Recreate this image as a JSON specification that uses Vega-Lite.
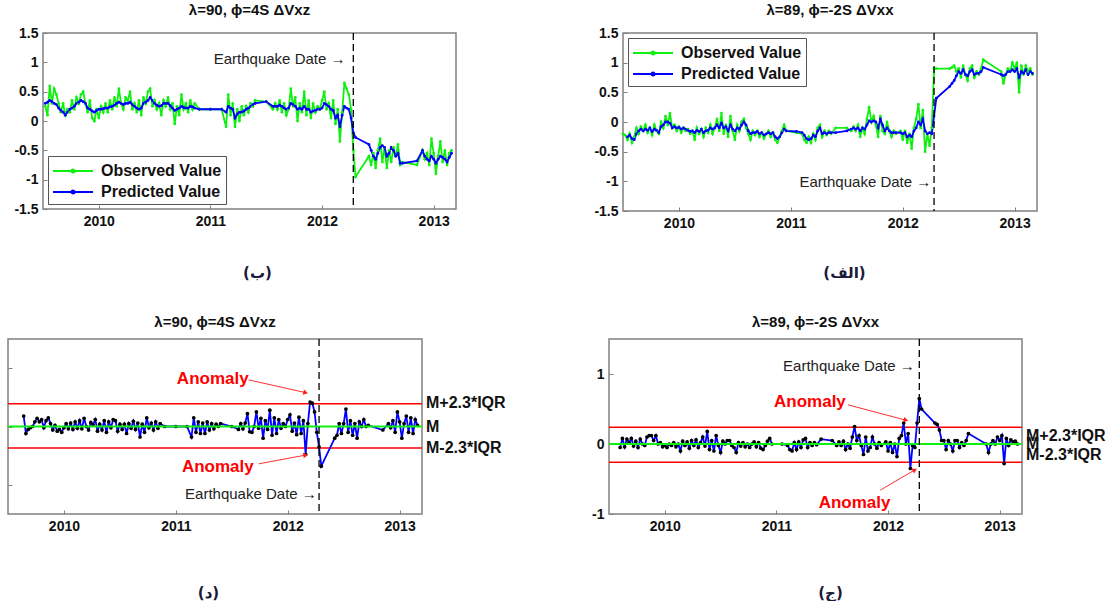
{
  "$schema": "https://vega.github.io/schema/vega-lite/v6.json",
  "background": "white",
  "padding": {"left": 6, "top": 2, "right": 2, "bottom": 0},
  "config": {
    "font": "Liberation Sans",
    "view": {"stroke": "#808080", "strokeWidth": 1.5},
    "axis": {"domain": false, "grid": false, "labelFont": "Liberation Sans", "labelFontWeight": "bold", "labelFontSize": 14, "labelColor": "#111111", "tickColor": "#808080", "tickSize": -4, "labelPadding": 9, "labelOverlap": false},
    "title": {"fontSize": 15, "fontWeight": "bold", "color": "#111111", "offset": 8},
    "legend": {"labelFont": "Liberation Sans", "labelFontWeight": "bold", "labelFontSize": 16, "labelColor": "#111111"}
  },
  "datasets": {
    "A": [
      {"t":2009.52,"o":0.25,"p":0.30},{"t":2009.54,"o":0.10,"p":0.32},{"t":2009.56,"o":0.60,"p":0.35},{"t":2009.58,"o":0.30,"p":0.33},
      {"t":2009.60,"o":0.55,"p":0.30},{"t":2009.62,"o":0.45,"p":0.28},{"t":2009.64,"o":0.30,"p":0.22,"r":0.18},{"t":2009.66,"o":0.15,"p":0.18,"r":-0.12},
      {"t":2009.68,"o":0.30,"p":0.15,"r":-0.05},{"t":2009.70,"o":0.10,"p":0.10,"r":-0.02},{"t":2009.72,"o":0.20,"p":0.15,"r":0.0},{"t":2009.74,"o":0.15,"p":0.20,"r":0.08},
      {"t":2009.76,"o":0.35,"p":0.22,"r":0.14},{"t":2009.78,"o":0.20,"p":0.25,"r":0.08},{"t":2009.80,"o":0.40,"p":0.30,"r":0.12},{"t":2009.82,"o":0.30,"p":0.32,"r":-0.02},
      {"t":2009.84,"o":0.45,"p":0.35,"r":0.10},{"t":2009.86,"o":0.50,"p":0.33,"r":0.15},{"t":2009.88,"o":0.30,"p":0.30,"r":0.05},{"t":2009.90,"o":0.15,"p":0.22,"r":-0.06},
      {"t":2009.92,"o":0.35,"p":0.20,"r":0.02},{"t":2009.94,"o":0.05,"p":0.17,"r":-0.08},{"t":2009.96,"o":0.00,"p":0.15,"r":-0.05},{"t":2009.98,"o":0.20,"p":0.18,"r":-0.10},
      {"t":2010.00,"o":0.05,"p":0.20,"r":-0.02},{"t":2010.02,"o":0.25,"p":0.20,"r":0.05},{"t":2010.04,"o":0.15,"p":0.21,"r":-0.04},{"t":2010.06,"o":0.30,"p":0.22,"r":0.06},
      {"t":2010.08,"o":0.15,"p":0.22,"r":-0.05},{"t":2010.10,"o":0.35,"p":0.24,"r":0.08},{"t":2010.12,"o":0.20,"p":0.25,"r":-0.03},{"t":2010.14,"o":0.40,"p":0.27,"r":0.10},
      {"t":2010.16,"o":0.25,"p":0.30,"r":-0.04},{"t":2010.18,"o":0.55,"p":0.32,"r":0.14},{"t":2010.20,"o":0.30,"p":0.30,"r":0.0},{"t":2010.22,"o":0.20,"p":0.28,"r":-0.06},
      {"t":2010.24,"o":0.40,"p":0.30,"r":0.07},{"t":2010.26,"o":0.35,"p":0.30,"r":0.03},{"t":2010.28,"o":0.50,"p":0.32,"r":0.12},{"t":2010.30,"o":0.20,"p":0.28,"r":-0.08},
      {"t":2010.32,"o":0.30,"p":0.25,"r":0.04},{"t":2010.34,"o":0.15,"p":0.22,"r":-0.06},{"t":2010.36,"o":0.35,"p":0.20,"r":0.10},{"t":2010.38,"o":0.10,"p":0.22,"r":-0.10},
      {"t":2010.40,"o":0.40,"p":0.30,"r":0.08},{"t":2010.42,"o":0.30,"p":0.32,"r":-0.02},{"t":2010.44,"o":0.50,"p":0.35,"r":0.12},{"t":2010.46,"o":0.55,"p":0.40,"r":0.10},
      {"t":2010.48,"o":0.25,"p":0.35,"r":-0.08},{"t":2010.50,"o":0.35,"p":0.30,"r":0.04},{"t":2010.52,"o":0.20,"p":0.27,"r":-0.05},{"t":2010.54,"o":0.30,"p":0.25,"r":0.04},
      {"t":2010.56,"o":0.10,"p":0.26,"r":-0.12},{"t":2010.58,"o":0.35,"p":0.30,"r":0.05},{"t":2010.60,"o":0.25,"p":0.30,"r":-0.03},{"t":2010.62,"o":0.40,"p":0.30,"r":0.09},
      {"t":2010.64,"o":0.20,"p":0.26,"r":-0.05},{"t":2010.66,"o":0.30,"p":0.22,"r":0.06},{"t":2010.68,"o":-0.05,"p":0.18,"r":-0.18},{"t":2010.70,"o":0.25,"p":0.20,"r":0.04},
      {"t":2010.72,"o":0.10,"p":0.22,"r":-0.10},{"t":2010.74,"o":0.45,"p":0.25,"r":0.15},{"t":2010.76,"o":0.20,"p":0.23,"r":-0.02},{"t":2010.78,"o":0.30,"p":0.22,"r":0.06},
      {"t":2010.80,"o":0.15,"p":0.22,"r":-0.06},{"t":2010.82,"o":0.35,"p":0.25,"r":0.08},{"t":2010.84,"o":0.20,"p":0.24,"r":-0.03},{"t":2010.86,"o":0.30,"p":0.22,"r":0.05},
      {"t":2010.90,"o":0.20,"p":0.20,"r":0.0},{"t":2011.00,"o":0.20,"p":0.20,"r":0.0},{"t":2011.10,"o":0.20,"p":0.20,"r":0.0},{"t":2011.14,"o":-0.10,"p":0.15,"r":-0.18},
      {"t":2011.16,"o":0.45,"p":0.25,"r":0.15},{"t":2011.18,"o":0.10,"p":0.22,"r":-0.10},{"t":2011.20,"o":0.30,"p":0.20,"r":0.08},{"t":2011.22,"o":-0.10,"p":0.05,"r":-0.12},
      {"t":2011.24,"o":0.20,"p":0.12,"r":0.06},{"t":2011.26,"o":0.00,"p":0.15,"r":-0.12},{"t":2011.28,"o":0.25,"p":0.15,"r":0.08},{"t":2011.30,"o":0.10,"p":0.17,"r":-0.06},
      {"t":2011.32,"o":0.25,"p":0.20,"r":0.05},{"t":2011.34,"o":0.15,"p":0.22,"r":-0.04},{"t":2011.36,"o":0.30,"p":0.25,"r":0.04},{"t":2011.38,"o":0.25,"p":0.28,"r":0.0},
      {"t":2011.40,"o":0.35,"p":0.30,"r":0.05},{"t":2011.50,"o":0.33,"p":0.33,"r":0.0},{"t":2011.56,"o":0.20,"p":0.25,"r":-0.05},{"t":2011.58,"o":0.30,"p":0.25,"r":0.05},
      {"t":2011.60,"o":0.20,"p":0.25,"r":-0.04},{"t":2011.62,"o":0.35,"p":0.27,"r":0.06},{"t":2011.64,"o":0.15,"p":0.25,"r":0.22},{"t":2011.66,"o":0.30,"p":0.22,"r":-0.09},
      {"t":2011.68,"o":0.10,"p":0.20,"r":-0.10},{"t":2011.70,"o":0.20,"p":0.22,"r":0.0},{"t":2011.72,"o":0.55,"p":0.30,"r":0.25},{"t":2011.74,"o":0.25,"p":0.28,"r":-0.03},
      {"t":2011.76,"o":0.40,"p":0.25,"r":0.14},{"t":2011.78,"o":0.00,"p":0.20,"r":-0.20},{"t":2011.80,"o":0.30,"p":0.22,"r":0.10},{"t":2011.82,"o":0.15,"p":0.20,"r":-0.05},
      {"t":2011.84,"o":0.50,"p":0.25,"r":0.28},{"t":2011.86,"o":0.10,"p":0.20,"r":-0.15},{"t":2011.88,"o":0.35,"p":0.20,"r":0.15},{"t":2011.90,"o":0.05,"p":0.15,"r":-0.12},
      {"t":2011.92,"o":0.30,"p":0.17,"r":0.12},{"t":2011.94,"o":0.15,"p":0.18,"r":-0.03},{"t":2011.96,"o":0.25,"p":0.20,"r":0.05},{"t":2011.98,"o":0.20,"p":0.20,"r":0.0},
      {"t":2012.00,"o":0.35,"p":0.22,"r":0.12},{"t":2012.02,"o":0.50,"p":0.30,"r":0.20},{"t":2012.04,"o":0.20,"p":0.28,"r":-0.08},{"t":2012.06,"o":0.30,"p":0.25,"r":0.06},
      {"t":2012.08,"o":0.05,"p":0.20,"r":-0.14},{"t":2012.10,"o":0.35,"p":0.18,"r":0.16},{"t":2012.12,"o":-0.05,"p":0.05,"r":-0.12},{"t":2012.14,"o":0.20,"p":0.10,"r":0.10},
      {"t":2012.16,"o":-0.35,"p":-0.10,"r":-0.48},{"t":2012.18,"o":0.15,"p":0.10,"r":0.05},{"t":2012.20,"o":0.65,"p":0.25,"r":0.42},{"t":2012.22,"o":0.55,"p":0.22,"r":0.40},
      {"t":2012.24,"o":0.45,"p":0.20,"r":0.25},{"t":2012.26,"o":0.20,"p":0.05,"r":-0.10},{"t":2012.28,"o":-0.50,"p":-0.20,"r":-0.35},{"t":2012.30,"o":-0.95,"p":-0.28,"r":-0.68},
      {"t":2012.42,"o":-0.60,"p":-0.40,"r":-0.20},{"t":2012.44,"o":-0.75,"p":-0.50,"r":-0.15},{"t":2012.46,"o":-0.55,"p":-0.60,"r":0.05},{"t":2012.48,"o":-0.80,"p":-0.65,"r":-0.12},
      {"t":2012.50,"o":-0.50,"p":-0.55,"r":0.05},{"t":2012.52,"o":-0.30,"p":-0.45,"r":0.30},{"t":2012.54,"o":-0.70,"p":-0.42,"r":-0.10},{"t":2012.56,"o":-0.45,"p":-0.45,"r":0.10},
      {"t":2012.58,"o":-0.80,"p":-0.60,"r":-0.15},{"t":2012.60,"o":-0.50,"p":-0.55,"r":0.05},{"t":2012.62,"o":-0.70,"p":-0.45,"r":-0.20},{"t":2012.64,"o":-0.45,"p":-0.50,"r":0.08},
      {"t":2012.66,"o":-0.60,"p":-0.60,"r":0.0},{"t":2012.68,"o":-0.40,"p":-0.55,"r":0.12},{"t":2012.70,"o":-0.75,"p":-0.72,"r":0.0},{"t":2012.72,"o":-0.70,"p":-0.72,"r":0.02},
      {"t":2012.85,"o":-0.75,"p":-0.68,"r":-0.06},{"t":2012.90,"o":-0.50,"p":-0.50,"r":0.05},{"t":2012.92,"o":-0.65,"p":-0.60,"r":-0.02},{"t":2012.94,"o":-0.55,"p":-0.65,"r":0.10},
      {"t":2012.96,"o":-0.75,"p":-0.68,"r":-0.10},{"t":2012.98,"o":-0.30,"p":-0.60,"r":0.25},{"t":2013.00,"o":-0.55,"p":-0.65,"r":0.08},{"t":2013.02,"o":-0.90,"p":-0.72,"r":-0.20},
      {"t":2013.04,"o":-0.60,"p":-0.65,"r":0.05},{"t":2013.06,"o":-0.35,"p":-0.60,"r":0.18},{"t":2013.08,"o":-0.70,"p":-0.62,"r":-0.10},{"t":2013.10,"o":-0.50,"p":-0.65,"r":0.15},
      {"t":2013.12,"o":-0.75,"p":-0.70,"r":-0.12},{"t":2013.14,"o":-0.55,"p":-0.62,"r":0.12},{"t":2013.16,"o":-0.50,"p":-0.55,"r":0.02}
    ],
    "B": [
      {"t":2009.50,"o":-0.20},{"t":2009.52,"o":-0.22},{"t":2009.54,"o":-0.30,"p":-0.25},{"t":2009.56,"o":-0.20,"p":-0.22},
      {"t":2009.58,"o":-0.35,"p":-0.28},{"t":2009.60,"o":-0.25,"p":-0.30,"r":-0.05},{"t":2009.62,"o":-0.10,"p":-0.20,"r":0.08},{"t":2009.64,"o":-0.20,"p":-0.15,"r":-0.04},
      {"t":2009.66,"o":-0.08,"p":-0.12,"r":0.07},{"t":2009.68,"o":-0.15,"p":-0.15,"r":0.02},{"t":2009.70,"o":-0.05,"p":-0.12,"r":0.08},{"t":2009.72,"o":-0.18,"p":-0.14,"r":-0.03},
      {"t":2009.74,"o":-0.10,"p":-0.10,"r":0.04},{"t":2009.76,"o":-0.22,"p":-0.16,"r":-0.05},{"t":2009.78,"o":-0.05,"p":-0.12,"r":0.07},{"t":2009.80,"o":-0.15,"p":-0.14,"r":0.0},
      {"t":2009.82,"o":-0.20,"p":-0.18,"r":-0.02},{"t":2009.84,"o":0.00,"p":-0.08,"r":0.10},{"t":2009.86,"o":-0.10,"p":-0.05,"r":0.12},{"t":2009.88,"o":0.10,"p":0.00,"r":0.12},
      {"t":2009.90,"o":-0.05,"p":0.00,"r":0.05},{"t":2009.92,"o":0.15,"p":-0.02,"r":0.12},{"t":2009.94,"o":-0.10,"p":-0.10,"r":0.0},{"t":2009.96,"o":-0.05,"p":-0.08,"r":0.02},
      {"t":2009.98,"o":-0.15,"p":-0.10,"r":-0.04},{"t":2010.00,"o":-0.08,"p":-0.09,"r":-0.02},{"t":2010.02,"o":-0.18,"p":-0.12,"r":-0.05},{"t":2010.04,"o":-0.10,"p":-0.10,"r":0.0},
      {"t":2010.06,"o":-0.15,"p":-0.12,"r":-0.02},{"t":2010.08,"o":-0.12,"p":-0.14,"r":0.02},{"t":2010.10,"o":-0.20,"p":-0.16,"r":-0.04},{"t":2010.12,"o":-0.15,"p":-0.15,"r":0.0},
      {"t":2010.14,"o":-0.30,"p":-0.18,"r":-0.10},{"t":2010.16,"o":-0.10,"p":-0.14,"r":0.04},{"t":2010.18,"o":-0.20,"p":-0.16,"r":-0.02},{"t":2010.20,"o":-0.12,"p":-0.12,"r":0.03},
      {"t":2010.22,"o":-0.25,"p":-0.18,"r":-0.06},{"t":2010.24,"o":-0.10,"p":-0.15,"r":0.05},{"t":2010.26,"o":-0.18,"p":-0.14,"r":-0.02},{"t":2010.28,"o":-0.05,"p":-0.10,"r":0.06},
      {"t":2010.30,"o":-0.20,"p":-0.12,"r":-0.05},{"t":2010.32,"o":-0.10,"p":-0.10,"r":0.02},{"t":2010.34,"o":0.05,"p":-0.05,"r":0.10},{"t":2010.36,"o":-0.15,"p":-0.10,"r":-0.03},
      {"t":2010.38,"o":0.15,"p":-0.02,"r":0.18},{"t":2010.40,"o":-0.20,"p":-0.10,"r":-0.08},{"t":2010.42,"o":-0.05,"p":-0.08,"r":0.05},{"t":2010.44,"o":-0.25,"p":-0.15,"r":-0.10},
      {"t":2010.46,"o":0.10,"p":-0.05,"r":0.12},{"t":2010.48,"o":-0.15,"p":-0.12,"r":-0.02},{"t":2010.50,"o":-0.30,"p":-0.15,"r":-0.12},{"t":2010.52,"o":-0.05,"p":-0.10,"r":0.04},
      {"t":2010.54,"o":-0.15,"p":-0.12,"r":0.0},{"t":2010.56,"o":0.00,"p":-0.05,"r":0.05},{"t":2010.58,"o":0.05,"p":0.00,"r":0.05},{"t":2010.60,"o":-0.10,"p":-0.05,"r":-0.02},
      {"t":2010.62,"o":-0.20,"p":-0.15,"r":-0.05},{"t":2010.64,"o":-0.30,"p":-0.20,"r":-0.12},{"t":2010.66,"o":-0.15,"p":-0.18,"r":0.02},{"t":2010.68,"o":-0.22,"p":-0.18,"r":-0.03},
      {"t":2010.70,"o":-0.15,"p":-0.16,"r":0.02},{"t":2010.72,"o":-0.25,"p":-0.20,"r":-0.04},{"t":2010.74,"o":-0.18,"p":-0.18,"r":0.0},{"t":2010.76,"o":-0.28,"p":-0.22,"r":-0.05},
      {"t":2010.78,"o":-0.20,"p":-0.20,"r":0.0},{"t":2010.80,"o":-0.15,"p":-0.18,"r":0.03},{"t":2010.82,"o":-0.25,"p":-0.20,"r":-0.04},{"t":2010.84,"o":-0.18,"p":-0.18,"r":0.02},
      {"t":2010.86,"o":-0.30,"p":-0.25,"r":-0.06},{"t":2010.88,"o":-0.35,"p":-0.28,"r":-0.08},{"t":2010.90,"o":-0.25,"p":-0.25,"r":-0.02},{"t":2010.92,"o":-0.15,"p":-0.18,"r":0.04},
      {"t":2010.94,"o":-0.05,"p":-0.12,"r":0.08},{"t":2010.96,"o":-0.15,"p":-0.15,"r":0.0},{"t":2011.05,"o":-0.18,"p":-0.16,"r":0.0},{"t":2011.10,"o":-0.20,"p":-0.18,"r":-0.02},
      {"t":2011.12,"o":-0.30,"p":-0.22,"r":-0.08},{"t":2011.14,"o":-0.35,"p":-0.28,"r":-0.10},{"t":2011.16,"o":-0.25,"p":-0.30,"r":0.02},{"t":2011.18,"o":-0.35,"p":-0.28,"r":-0.08},
      {"t":2011.20,"o":-0.20,"p":-0.22,"r":0.03},{"t":2011.22,"o":-0.30,"p":-0.25,"r":-0.05},{"t":2011.24,"o":-0.10,"p":-0.15,"r":0.06},{"t":2011.26,"o":-0.05,"p":-0.10,"r":0.08},
      {"t":2011.28,"o":-0.25,"p":-0.20,"r":-0.05},{"t":2011.30,"o":-0.15,"p":-0.18,"r":0.02},{"t":2011.32,"o":-0.22,"p":-0.20,"r":-0.02},{"t":2011.34,"o":-0.15,"p":-0.18,"r":0.02},
      {"t":2011.36,"o":-0.20,"p":-0.18,"r":-0.01},{"t":2011.40,"o":-0.10,"p":-0.18,"r":0.07},{"t":2011.50,"o":-0.10,"p":-0.15,"r":0.05},{"t":2011.54,"o":-0.15,"p":-0.12,"r":-0.02},
      {"t":2011.56,"o":-0.08,"p":-0.10,"r":0.03},{"t":2011.58,"o":-0.15,"p":-0.12,"r":-0.02},{"t":2011.60,"o":-0.05,"p":-0.10,"r":0.04},{"t":2011.62,"o":-0.25,"p":-0.15,"r":-0.08},
      {"t":2011.64,"o":-0.10,"p":-0.10,"r":0.0},{"t":2011.66,"o":-0.20,"p":-0.12,"r":-0.06},{"t":2011.68,"o":0.05,"p":-0.05,"r":0.10},{"t":2011.70,"o":0.25,"p":0.02,"r":0.25},
      {"t":2011.72,"o":0.00,"p":0.00,"r":0.05},{"t":2011.74,"o":0.10,"p":0.02,"r":0.12},{"t":2011.76,"o":-0.05,"p":0.00,"r":-0.02},{"t":2011.78,"o":-0.25,"p":-0.10,"r":-0.15},
      {"t":2011.80,"o":0.10,"p":0.05,"r":0.10},{"t":2011.82,"o":-0.15,"p":-0.05,"r":-0.10},{"t":2011.84,"o":-0.20,"p":-0.15,"r":-0.05},{"t":2011.86,"o":0.00,"p":-0.10,"r":0.10},
      {"t":2011.88,"o":-0.15,"p":-0.15,"r":0.0},{"t":2011.90,"o":-0.25,"p":-0.18,"r":-0.06},{"t":2011.92,"o":-0.15,"p":-0.18,"r":0.02},{"t":2011.94,"o":-0.20,"p":-0.18,"r":-0.02},
      {"t":2011.98,"o":-0.15,"p":-0.18,"r":0.03},{"t":2012.00,"o":-0.30,"p":-0.20,"r":-0.10},{"t":2012.02,"o":-0.15,"p":-0.18,"r":0.02},{"t":2012.04,"o":-0.35,"p":-0.25,"r":-0.12},
      {"t":2012.06,"o":-0.20,"p":-0.22,"r":0.0},{"t":2012.08,"o":-0.45,"p":-0.25,"r":-0.18},{"t":2012.10,"o":-0.10,"p":-0.15,"r":0.08},{"t":2012.12,"o":0.05,"p":-0.10,"r":0.12},
      {"t":2012.14,"o":0.30,"p":0.00,"r":0.30},{"t":2012.16,"o":-0.10,"p":-0.05,"r":0.0},{"t":2012.18,"o":0.20,"p":0.05,"r":0.15},{"t":2012.20,"o":-0.50,"p":-0.15,"r":-0.35},
      {"t":2012.22,"o":-0.20,"p":-0.20,"r":-0.02},{"t":2012.24,"o":-0.40,"p":-0.18,"r":-0.05},{"t":2012.26,"o":-0.10,"p":-0.20,"r":0.30},{"t":2012.28,"o":0.90,"p":0.10,"r":0.65},
      {"t":2012.30,"o":0.90,"p":0.40,"r":0.50},{"t":2012.42,"o":0.90,"p":0.60,"r":0.30},{"t":2012.44,"o":0.92,"p":0.65,"r":0.28},{"t":2012.46,"o":0.95,"p":0.70,"r":0.20},
      {"t":2012.48,"o":0.85,"p":0.78,"r":0.05},{"t":2012.50,"o":0.90,"p":0.85,"r":0.05},{"t":2012.52,"o":0.75,"p":0.82,"r":-0.08},{"t":2012.54,"o":0.95,"p":0.88,"r":0.05},
      {"t":2012.56,"o":0.80,"p":0.80,"r":0.0},{"t":2012.58,"o":0.70,"p":0.78,"r":-0.10},{"t":2012.60,"o":0.90,"p":0.85,"r":0.05},{"t":2012.62,"o":0.95,"p":0.88,"r":0.05},
      {"t":2012.64,"o":0.75,"p":0.80,"r":-0.05},{"t":2012.66,"o":0.85,"p":0.82,"r":0.02},{"t":2012.68,"o":0.80,"p":0.82,"r":-0.02},{"t":2012.70,"o":0.90,"p":0.85,"r":0.05},
      {"t":2012.72,"o":1.05,"p":0.92,"r":0.15},{"t":2012.88,"o":0.85,"p":0.80,"r":0.0},{"t":2012.90,"o":0.65,"p":0.78,"r":-0.12},{"t":2012.92,"o":0.80,"p":0.80,"r":0.0},
      {"t":2012.94,"o":0.90,"p":0.85,"r":0.05},{"t":2012.96,"o":0.85,"p":0.85,"r":0.0},{"t":2012.98,"o":1.00,"p":0.88,"r":0.10},{"t":2013.00,"o":0.90,"p":0.85,"r":0.05},
      {"t":2013.02,"o":1.00,"p":0.90,"r":0.12},{"t":2013.04,"o":0.50,"p":0.75,"r":-0.28},{"t":2013.06,"o":0.95,"p":0.85,"r":0.08},{"t":2013.08,"o":0.80,"p":0.82,"r":-0.02},
      {"t":2013.10,"o":0.95,"p":0.88,"r":0.06},{"t":2013.12,"o":0.85,"p":0.80,"r":0.03},{"t":2013.14,"o":0.90,"p":0.85,"r":0.04},{"t":2013.16,"o":0.80,"p":0.82,"r":0.0}
    ],
    "annA": [{"x":2011.33,"y":0.81},{"x":2011.375,"y":-0.69}],
    "arrA": [{"x":2011.65,"y":0.80,"x2":2012.16,"y2":0.58},{"x":2011.74,"y":-0.64,"x2":2012.16,"y2":-0.49}],
    "mA": [{"lab":"M+2.3*IQR","y":0.41},{"lab":"M","y":0.0},{"lab":"M-2.3*IQR","y":-0.36}],
    "annB": [{"x":2011.30,"y":0.60},{"x":2011.70,"y":-0.84}],
    "arrB": [{"x":2011.64,"y":0.56,"x2":2012.16,"y2":0.34},{"x":2011.93,"y":-0.66,"x2":2012.24,"y2":-0.37}],
    "mB": [{"lab":"M+2.3*IQR","y":0.11},{"lab":"M","y":0.0},{"lab":"M-2.3*IQR","y":-0.16}]
  },
  "spacing": 33,
  "vconcat": [
    {
      "spacing": 0,
      "hconcat": [
        {"width": 3, "height": 10, "view": {"stroke": null}, "data": {"values": [{}]}, "mark": {"type": "point", "opacity": 0}, "encoding": {}},
        {
          "spacing": 136,
          "hconcat": [
            {
              "width": 413, "height": 176,
              "title": "λ=90, ϕ=4S ΔVxz",
              "layer": [
                {
                  "data": {"name": "A"},
                  "transform": [{"fold": ["o", "p"], "as": ["s", "v"]}],
                  "mark": {"type": "line", "strokeWidth": 1.8, "point": {"filled": true, "size": 8}},
                  "encoding": {
                    "x": {"field": "t", "type": "quantitative", "scale": {"domain": [2009.5, 2013.2], "nice": false, "zero": false},
                          "axis": {"values": [2010, 2011, 2012, 2013], "labelExpr": "datum.value + ''", "title": "(ب)", "titleFont": "DejaVu Sans", "titleFontSize": 15, "titleFontWeight": "bold", "titleColor": "#1a1a3a", "titlePadding": 37, "titleX": 214}},
                    "y": {"field": "v", "type": "quantitative", "scale": {"domain": [-1.5, 1.5], "nice": false},
                          "axis": {"values": [-1.5, -1, -0.5, 0, 0.5, 1, 1.5], "tickCount": 20, "labelExpr": "datum.value + ''", "title": null}},
                    "color": {"field": "s", "type": "nominal", "scale": {"domain": ["o", "p"], "range": ["#10f010", "#0000ff"]},
                              "legend": {"title": null, "orient": "bottom-left", "offset": 5, "fillColor": "white", "strokeColor": "#555555", "padding": 4, "symbolType": "M-1,0H3M0.85,0a0.15,0.15 0 1,0 0.3,0a0.15,0.15 0 1,0 -0.3,0", "symbolSize": 400, "symbolStrokeWidth": 2, "labelOffset": 27, "labelExpr": "datum.label == 'o' ? 'Observed Value' : 'Predicted Value'", "rowPadding": 2}}
                  }
                },
                {"data": {"values": [{}]}, "mark": {"type": "rule", "strokeDash": [7, 4], "color": "black", "strokeWidth": 1.3}, "encoding": {"x": {"datum": 2012.28}}},
                {"data": {"values": [{}]}, "mark": {"type": "text", "align": "right", "baseline": "middle", "fontSize": 15, "color": "#222222"},
                 "encoding": {"x": {"datum": 2012.21}, "y": {"datum": 1.06}, "text": {"value": "Earthquake Date →"}}}
              ]
            },
            {
              "width": 414, "height": 178,
              "title": "λ=89, ϕ=-2S ΔVxx",
              "layer": [
                {
                  "data": {"name": "B"},
                  "transform": [{"fold": ["o", "p"], "as": ["s", "v"]}],
                  "mark": {"type": "line", "strokeWidth": 1.8, "point": {"filled": true, "size": 8}},
                  "encoding": {
                    "x": {"field": "t", "type": "quantitative", "scale": {"domain": [2009.5, 2013.2], "nice": false, "zero": false},
                          "axis": {"values": [2010, 2011, 2012, 2013], "labelExpr": "datum.value + ''", "title": "(الف)", "titleFont": "DejaVu Sans", "titleFontSize": 15, "titleFontWeight": "bold", "titleColor": "#1a1a3a", "titlePadding": 35, "titleX": 221}},
                    "y": {"field": "v", "type": "quantitative", "scale": {"domain": [-1.5, 1.5], "nice": false},
                          "axis": {"values": [-1.5, -1, -0.5, 0, 0.5, 1, 1.5], "tickCount": 20, "labelExpr": "datum.value + ''", "title": null}},
                    "color": {"field": "s", "type": "nominal", "scale": {"domain": ["o", "p"], "range": ["#10f010", "#0000ff"]},
                              "legend": {"title": null, "orient": "top-left", "offset": 5, "fillColor": "white", "strokeColor": "#555555", "padding": 4, "symbolType": "M-1,0H3M0.85,0a0.15,0.15 0 1,0 0.3,0a0.15,0.15 0 1,0 -0.3,0", "symbolSize": 400, "symbolStrokeWidth": 2, "labelOffset": 27, "labelExpr": "datum.label == 'o' ? 'Observed Value' : 'Predicted Value'", "rowPadding": 2}}
                  }
                },
                {"data": {"values": [{}]}, "mark": {"type": "rule", "strokeDash": [7, 4], "color": "black", "strokeWidth": 1.3}, "encoding": {"x": {"datum": 2012.28}}},
                {"data": {"values": [{}]}, "mark": {"type": "text", "align": "right", "baseline": "middle", "fontSize": 15, "color": "#222222"},
                 "encoding": {"x": {"datum": 2012.255}, "y": {"datum": -1.01}, "text": {"value": "Earthquake Date →"}}}
              ]
            }
          ]
        }
      ]
    },
    {
      "spacing": 83,
      "hconcat": [
        {
          "width": 414, "height": 175,
          "title": "λ=90, ϕ=4S ΔVxz",
          "layer": [
            {"data": {"values": [{}]}, "mark": {"type": "rule", "color": "#ff0000", "strokeWidth": 1.5}, "encoding": {"y": {"datum": 0.39, "type": "quantitative", "scale": {"domain": [-1.5, 1.5], "nice": false}, "axis": {"values": [-1, 0, 1], "labels": false, "title": null}}}},
            {"data": {"values": [{}]}, "mark": {"type": "rule", "color": "#ff0000", "strokeWidth": 1.5}, "encoding": {"y": {"datum": -0.37}}},
            {
              "data": {"name": "A"},
              "mark": {"type": "line", "color": "#0000ff", "strokeWidth": 1.8},
              "encoding": {
                "x": {"field": "t", "type": "quantitative", "scale": {"domain": [2009.5, 2013.2], "nice": false, "zero": false},
                      "axis": {"values": [2010, 2011, 2012, 2013], "labelExpr": "datum.value + ''", "title": "(د)", "titleFont": "DejaVu Sans", "titleFontSize": 15, "titleFontWeight": "bold", "titleColor": "#1a1a3a", "titlePadding": 52, "titleX": 200}},
                "y": {"field": "r", "type": "quantitative"}
              }
            },
            {"data": {"name": "A"}, "mark": {"type": "point", "filled": true, "color": "black", "size": 14, "opacity": 1},
             "encoding": {"x": {"field": "t", "type": "quantitative"}, "y": {"field": "r", "type": "quantitative"}}},
            {"data": {"values": [{}]}, "mark": {"type": "rule", "color": "#10f010", "strokeWidth": 2}, "encoding": {"y": {"datum": 0.0}}},
            {"data": {"values": [{}]}, "mark": {"type": "rule", "strokeDash": [7, 4], "color": "black", "strokeWidth": 1.3}, "encoding": {"x": {"datum": 2012.28}}},
            {"data": {"values": [{}]}, "mark": {"type": "text", "align": "right", "baseline": "middle", "fontSize": 15, "color": "#222222"},
             "encoding": {"x": {"datum": 2012.26}, "y": {"datum": -1.15}, "text": {"value": "Earthquake Date →"}}},
            {"data": {"name": "annA"}, "mark": {"type": "text", "align": "center", "baseline": "middle", "fontSize": 17, "fontWeight": "bold", "color": "#ff0000"},
             "encoding": {"x": {"field": "x", "type": "quantitative"}, "y": {"field": "y", "type": "quantitative"}, "text": {"value": "Anomaly"}}},
            {"data": {"name": "arrA"}, "mark": {"type": "rule", "color": "#ff3030", "strokeWidth": 1},
             "encoding": {"x": {"field": "x", "type": "quantitative"}, "y": {"field": "y", "type": "quantitative"}, "x2": {"field": "x2"}, "y2": {"field": "y2"}}},
            {"data": {"values": [{}]}, "mark": {"type": "point", "shape": "triangle-right", "filled": true, "color": "#ff2020", "size": 30, "angle": 14, "opacity": 1},
             "encoding": {"x": {"datum": 2012.16}, "y": {"datum": 0.58}}},
            {"data": {"values": [{}]}, "mark": {"type": "point", "shape": "triangle-right", "filled": true, "color": "#ff2020", "size": 30, "angle": 349, "opacity": 1},
             "encoding": {"x": {"datum": 2012.16}, "y": {"datum": -0.49}}},
            {"data": {"name": "mA"}, "mark": {"type": "text", "align": "left", "baseline": "middle", "dx": 4, "fontSize": 16, "fontWeight": "bold", "color": "#111111"},
             "encoding": {"x": {"datum": 2013.2}, "y": {"field": "y", "type": "quantitative"}, "text": {"field": "lab"}}}
          ]
        },
        {
          "width": 413, "height": 175,
          "title": "λ=89, ϕ=-2S ΔVxx",
          "layer": [
            {"data": {"values": [{}]}, "mark": {"type": "rule", "color": "#ff0000", "strokeWidth": 1.5}, "encoding": {"y": {"datum": 0.24, "type": "quantitative", "scale": {"domain": [-1, 1.5], "nice": false}, "axis": {"values": [-1, 0, 1], "labelExpr": "datum.value + ''", "title": null}}}},
            {"data": {"values": [{}]}, "mark": {"type": "rule", "color": "#ff0000", "strokeWidth": 1.5}, "encoding": {"y": {"datum": -0.26}}},
            {
              "data": {"name": "B"},
              "mark": {"type": "line", "color": "#0000ff", "strokeWidth": 1.8},
              "encoding": {
                "x": {"field": "t", "type": "quantitative", "scale": {"domain": [2009.5, 2013.2], "nice": false, "zero": false},
                      "axis": {"values": [2010, 2011, 2012, 2013], "labelExpr": "datum.value + ''", "title": "(ج)", "titleFont": "DejaVu Sans", "titleFontSize": 15, "titleFontWeight": "bold", "titleColor": "#1a1a3a", "titlePadding": 52, "titleX": 221}},
                "y": {"field": "r", "type": "quantitative"}
              }
            },
            {"data": {"name": "B"}, "mark": {"type": "point", "filled": true, "color": "black", "size": 14, "opacity": 1},
             "encoding": {"x": {"field": "t", "type": "quantitative"}, "y": {"field": "r", "type": "quantitative"}}},
            {"data": {"values": [{}]}, "mark": {"type": "rule", "color": "#10f010", "strokeWidth": 2}, "encoding": {"y": {"datum": 0.0}}},
            {"data": {"values": [{}]}, "mark": {"type": "rule", "strokeDash": [7, 4], "color": "black", "strokeWidth": 1.3}, "encoding": {"x": {"datum": 2012.28}}},
            {"data": {"values": [{}]}, "mark": {"type": "text", "align": "right", "baseline": "middle", "fontSize": 15, "color": "#222222"},
             "encoding": {"x": {"datum": 2012.24}, "y": {"datum": 1.11}, "text": {"value": "Earthquake Date →"}}},
            {"data": {"name": "annB"}, "mark": {"type": "text", "align": "center", "baseline": "middle", "fontSize": 17, "fontWeight": "bold", "color": "#ff0000"},
             "encoding": {"x": {"field": "x", "type": "quantitative"}, "y": {"field": "y", "type": "quantitative"}, "text": {"value": "Anomaly"}}},
            {"data": {"name": "arrB"}, "mark": {"type": "rule", "color": "#ff3030", "strokeWidth": 1},
             "encoding": {"x": {"field": "x", "type": "quantitative"}, "y": {"field": "y", "type": "quantitative"}, "x2": {"field": "x2"}, "y2": {"field": "y2"}}},
            {"data": {"values": [{}]}, "mark": {"type": "point", "shape": "triangle-right", "filled": true, "color": "#ff2020", "size": 30, "angle": 15, "opacity": 1},
             "encoding": {"x": {"datum": 2012.16}, "y": {"datum": 0.34}}},
            {"data": {"values": [{}]}, "mark": {"type": "point", "shape": "triangle-right", "filled": true, "color": "#ff2020", "size": 30, "angle": 330, "opacity": 1},
             "encoding": {"x": {"datum": 2012.24}, "y": {"datum": -0.37}}},
            {"data": {"name": "mB"}, "mark": {"type": "text", "align": "left", "baseline": "middle", "dx": 4, "fontSize": 16, "fontWeight": "bold", "color": "#111111"},
             "encoding": {"x": {"datum": 2013.2}, "y": {"field": "y", "type": "quantitative"}, "text": {"field": "lab"}}}
          ]
        }
      ]
    }
  ]
}
